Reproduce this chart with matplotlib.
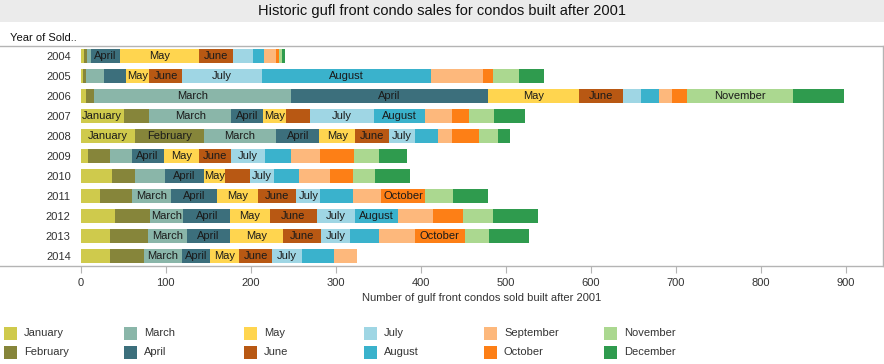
#!/usr/bin/env python3
"""Historic gulf front condo sales (condos built after 2001), stacked by month sold."""

import matplotlib
matplotlib.use("Agg")
import matplotlib.pyplot as plt
from matplotlib.lines import Line2D
from matplotlib.patches import Rectangle

plt.rcParams["font.family"] = ["Liberation Sans", "DejaVu Sans"]

YEARS = ["2004", "2005", "2006", "2007", "2008", "2009", "2010", "2011", "2012", "2013", "2014"]
MONTHS = ["January", "February", "March", "April", "May", "June",
          "July", "August", "September", "October", "November", "December"]
MONTH_COLORS = ["#cfca4c", "#86853a", "#8ab6a9", "#3c6f7c", "#ffd54f", "#b85813",
                "#9fd6e4", "#3ab2cc", "#fdb87c", "#fd7f16", "#abd890", "#2f9b4e"]

# condos sold per month, one value per year (2004 .. 2014)
jan = [4, 3, 6, 51, 64, 9, 37, 23, 41, 35, 35]
feb = [4, 4, 10, 30, 81, 26, 27, 38, 41, 44, 40]
mar = [4, 21, 232, 96, 85, 25, 35, 46, 39, 46, 44]
apr = [35, 26, 231, 38, 51, 38, 46, 53, 55, 51, 33]
may = [92, 27, 107, 27, 42, 41, 25, 49, 47, 62, 35]
jun = [40, 38, 52, 28, 40, 38, 29, 45, 55, 45, 38]
jul = [24, 95, 21, 75, 31, 40, 29, 28, 45, 34, 35]
aug = [13, 198, 21, 60, 27, 31, 29, 38, 51, 34, 38]
sep = [14, 61, 16, 32, 16, 34, 36, 34, 41, 42, 27]
oct_ = [3, 12, 18, 20, 32, 40, 27, 51, 35, 59, 0]
nov = [4, 31, 124, 29, 22, 29, 26, 33, 35, 29, 0]
dec = [3, 29, 60, 37, 14, 33, 42, 41, 53, 46, 0]
SALES = [jan, feb, mar, apr, may, jun, jul, aug, sep, oct_, nov, dec]

# segments wide enough to carry their month name
LABELLED = {
    "2004": ["April", "May", "June"],
    "2005": ["May", "June", "July", "August"],
    "2006": ["March", "April", "May", "June", "November"],
    "2007": ["January", "March", "April", "May", "July", "August"],
    "2008": ["January", "February", "March", "April", "May", "June", "July"],
    "2009": ["April", "May", "June", "July"],
    "2010": ["April", "May", "July"],
    "2011": ["March", "April", "May", "June", "July", "October"],
    "2012": ["March", "April", "May", "June", "July", "August"],
    "2013": ["March", "April", "May", "June", "July", "October"],
    "2014": ["March", "April", "May", "June", "July"],
}

W, H = 884, 364
TEXT = "#333333"
FRAME = "#b4b4b4"


def fx(px):
    return px / W


def fy(py):
    return 1 - py / H


def main():
    fig = plt.figure(figsize=(W / 100, H / 100), dpi=100)

    # grey title band
    fig.patches.append(Rectangle((0, fy(22)), 1, 22 / H, transform=fig.transFigure,
                                 facecolor="#ebebeb", edgecolor="none", zorder=0))
    fig.text(0.5, fy(11), "Historic gufl front condo sales for condos built after 2001",
             ha="center", va="center", fontsize=10.5, color="#111111")

    ax = fig.add_axes([fx(80.5), fy(266), fx(883 - 80.5), (266 - 46) / H])
    left = [0] * len(YEARS)
    ypos = list(range(len(YEARS)))
    for month, color, vals in zip(MONTHS, MONTH_COLORS, SALES):
        ax.barh(ypos, vals, left=left, height=0.72, color=color, linewidth=0)
        for i, (yr, v) in enumerate(zip(YEARS, vals)):
            if month in LABELLED[yr]:
                ax.text(left[i] + v / 2, i, month, ha="center", va="center",
                        fontsize=8, color="#1a1a1a", clip_on=True)
        left = [l + v for l, v in zip(left, vals)]

    ax.set_xlim(0, 944)
    ax.set_ylim(len(YEARS) - 0.5, -0.5)
    ax.set_yticks(ypos)
    ax.set_yticklabels(YEARS, fontsize=8, color=TEXT)
    ax.set_xticks(range(0, 1000, 100))
    ax.set_xticklabels([str(v) for v in range(0, 1000, 100)], fontsize=8, color=TEXT)
    ax.tick_params(axis="y", length=0, pad=7)
    ax.tick_params(axis="x", length=5, color=FRAME, pad=4)
    for s in ax.spines.values():
        s.set_visible(False)
    ax.set_xlabel("Number of gulf front condos sold built after 2001",
                  fontsize=8, color=TEXT, labelpad=3)

    # frame lines (top/bottom run across the row header area)
    for y in (46, 266):
        fig.add_artist(Line2D([0, fx(883)], [fy(y), fy(y)], color=FRAME, lw=1))
    fig.add_artist(Line2D([fx(883), fx(883)], [fy(46), fy(266)], color=FRAME, lw=1))
    fig.text(fx(10), fy(38), "Year of Sold..", ha="left", va="center",
             fontsize=8, color="#111111")

    # legend: 2 rows x 6 columns
    for k, (month, color) in enumerate(zip(MONTHS, MONTH_COLORS)):
        col, row = divmod(k, 2)
        x0 = 4 + 120 * col
        yc = 333 + 19 * row
        fig.patches.append(Rectangle((fx(x0), fy(yc + 6.5)), 13 / W, 13 / H,
                                     transform=fig.transFigure, facecolor=color,
                                     edgecolor="none"))
        fig.text(fx(x0 + 20), fy(yc), month, ha="left", va="center",
                 fontsize=8, color=TEXT)

    fig.savefig("out.png", dpi=100)
    plt.close(fig)


if __name__ == "__main__":
    main()
